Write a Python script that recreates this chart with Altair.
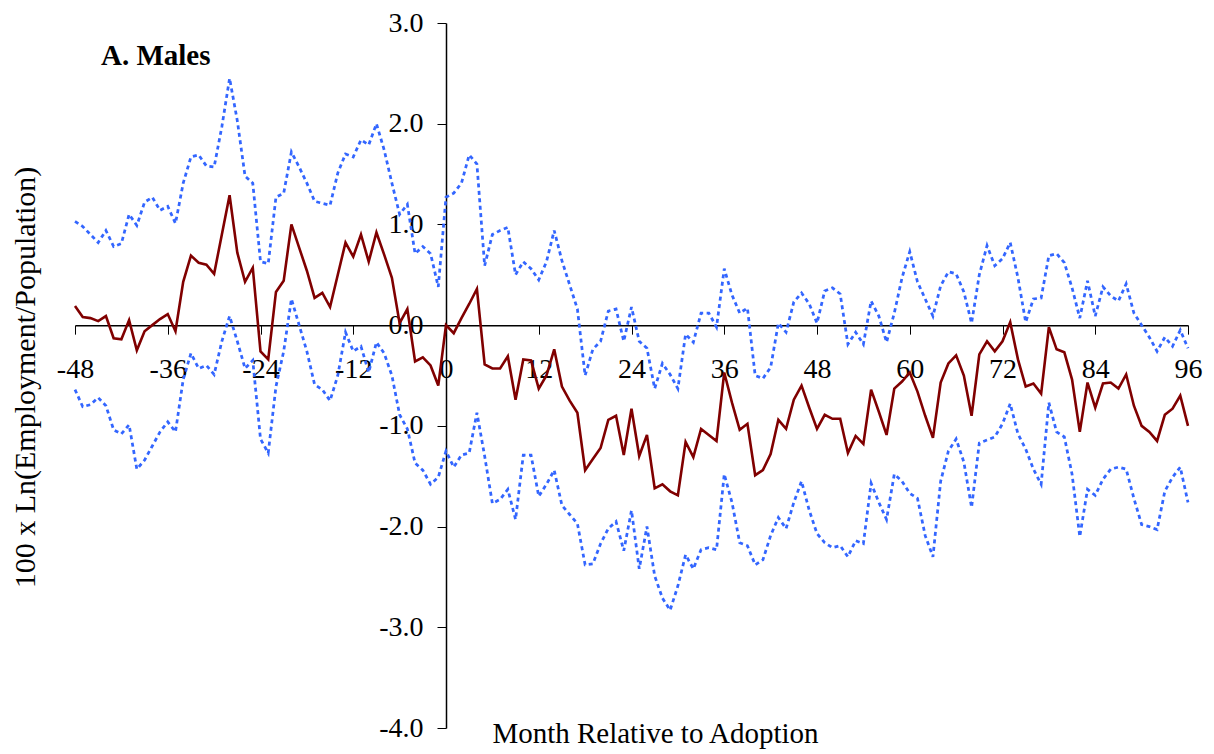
import altair as alt
import pandas as pd

months = list(range(-48, 97))

main_vals = [
    0.19, 0.08, 0.07, 0.04, 0.09, -0.13, -0.14, 0.05, -0.25, -0.06, 0.00, 0.06,
    0.11, -0.06, 0.43, 0.69, 0.62, 0.60, 0.51, 0.90, 1.29, 0.72, 0.43, 0.57,
    -0.26, -0.34, 0.33, 0.44, 1.00, 0.77, 0.54, 0.27, 0.32, 0.18, 0.50, 0.82,
    0.68, 0.90, 0.63, 0.92, 0.70, 0.47, 0.02, 0.16, -0.36, -0.32, -0.40, -0.60,
    0.00, -0.08, 0.07, 0.21, 0.36, -0.39, -0.43, -0.43, -0.31, -0.74, -0.34, -0.35,
    -0.63, -0.50, -0.24, -0.61, -0.75, -0.87, -1.44, -1.33, -1.22, -0.94, -0.90, -1.29,
    -0.83, -1.30, -1.09, -1.62, -1.58, -1.65, -1.69, -1.16, -1.31, -1.03, -1.09, -1.15,
    -0.47, -0.77, -1.04, -0.98, -1.49, -1.44, -1.28, -0.94, -1.03, -0.74, -0.60, -0.82,
    -1.03, -0.89, -0.93, -0.93, -1.27, -1.10, -1.18, -0.64, -0.86, -1.09, -0.63, -0.56,
    -0.47, -0.66, -0.90, -1.12, -0.57, -0.38, -0.30, -0.50, -0.90, -0.29, -0.16, -0.26,
    -0.16, 0.03, -0.34, -0.61, -0.58, -0.68, -0.02, -0.24, -0.27, -0.54, -1.06, -0.57,
    -0.82, -0.58, -0.57, -0.63, -0.49, -0.80, -1.00, -1.06, -1.15, -0.89, -0.83, -0.70,
    -1.00,
]

upper_vals = [
    1.03, 0.98, 0.90, 0.82, 0.94, 0.78, 0.81, 1.10, 0.99, 1.22, 1.27, 1.14,
    1.18, 1.01, 1.41, 1.67, 1.69, 1.58, 1.57, 1.97, 2.45, 2.03, 1.48, 1.41,
    0.63, 0.61, 1.27, 1.31, 1.72, 1.57, 1.41, 1.23, 1.21, 1.19, 1.51, 1.70,
    1.67, 1.84, 1.79, 2.00, 1.74, 1.41, 1.10, 1.20, 0.71, 0.78, 0.71, 0.38,
    1.27, 1.31, 1.41, 1.69, 1.60, 0.59, 0.90, 0.94, 0.97, 0.50, 0.63, 0.56,
    0.45, 0.63, 0.94, 0.64, 0.40, 0.16, -0.50, -0.24, -0.16, 0.14, 0.16, -0.16,
    0.18, -0.16, -0.23, -0.63, -0.38, -0.49, -0.63, -0.09, -0.17, 0.12, 0.12, -0.02,
    0.56, 0.30, 0.12, 0.17, -0.50, -0.53, -0.42, 0.02, -0.07, 0.23, 0.32, 0.21,
    0.02, 0.34, 0.37, 0.31, -0.19, -0.07, -0.19, 0.24, 0.09, -0.17, 0.12, 0.47,
    0.73, 0.43, 0.26, 0.09, 0.39, 0.53, 0.51, 0.33, 0.02, 0.50, 0.79, 0.59,
    0.66, 0.82, 0.47, 0.03, 0.26, 0.27, 0.69, 0.71, 0.62, 0.37, 0.07, 0.44,
    0.09, 0.38, 0.29, 0.24, 0.41, 0.12, 0.00, -0.12, -0.26, -0.12, -0.21, -0.05,
    -0.23,
]

lower_vals = [
    -0.64, -0.81, -0.79, -0.72, -0.80, -1.04, -1.08, -0.99, -1.43, -1.34, -1.20, -1.06,
    -0.96, -1.06, -0.54, -0.28, -0.43, -0.40, -0.49, -0.16, 0.09, -0.16, -0.43, -0.35,
    -1.13, -1.27, -0.61, -0.26, 0.26, 0.00, -0.26, -0.59, -0.64, -0.75, -0.50, -0.07,
    -0.26, -0.21, -0.47, -0.17, -0.28, -0.50, -0.89, -1.03, -1.37, -1.44, -1.58, -1.51,
    -1.25, -1.41, -1.29, -1.27, -0.87, -1.30, -1.77, -1.73, -1.63, -1.93, -1.29, -1.29,
    -1.70, -1.58, -1.44, -1.79, -1.88, -1.97, -2.38, -2.37, -2.17, -2.02, -1.95, -2.24,
    -1.84, -2.42, -2.00, -2.49, -2.71, -2.83, -2.59, -2.28, -2.42, -2.23, -2.21, -2.23,
    -1.48, -1.76, -2.16, -2.19, -2.38, -2.33, -2.09, -1.91, -2.02, -1.76, -1.55, -1.84,
    -2.07, -2.16, -2.21, -2.19, -2.30, -2.14, -2.17, -1.57, -1.76, -1.93, -1.48, -1.55,
    -1.67, -1.72, -2.09, -2.30, -1.55, -1.25, -1.13, -1.36, -1.81, -1.17, -1.14, -1.11,
    -0.98, -0.78, -1.08, -1.23, -1.43, -1.58, -0.77, -1.06, -1.11, -1.48, -2.10, -1.63,
    -1.69, -1.53, -1.43, -1.41, -1.43, -1.72, -1.98, -2.00, -2.03, -1.65, -1.51, -1.41,
    -1.76,
]

x_ticks = [-48, -36, -24, -12, 0, 12, 24, 36, 48, 60, 72, 84, 96]
y_ticks = [-4, -3, -2, -1, 0, 1, 2, 3]

title_text = "A. Males"
x_title = "Month Relative to Adoption"
y_title = "100 x Ln(Employment/Population)"

df = pd.concat([
    pd.DataFrame({"month": months, "value": main_vals, "series": "main"}),
    pd.DataFrame({"month": months, "value": upper_vals, "series": "upper"}),
    pd.DataFrame({"month": months, "value": lower_vals, "series": "lower"}),
])

W, H = 1113, 705
FONT = "Liberation Serif"
Y0 = H * 3 / 7      # pixel row of value 0
X0 = W / 3          # pixel column of month 0

x_scale = alt.Scale(domain=[-48, 96], nice=False, zero=False)
y_scale = alt.Scale(domain=[-4, 3], nice=False, zero=False)

x_axis = alt.Axis(
    values=x_ticks, offset=-(H - Y0), orient="bottom",
    labelExpr="'' + datum.value", labelAlign="center", labelBaseline="top",
    labelPadding=21, labelFontSize=28, labelFont=FONT, labelColor="black",
    tickSize=9, tickColor="black", tickWidth=1,
    domainColor="black", domainWidth=1.5, grid=False,
    title=x_title, titleFont=FONT, titleFontSize=29, titleFontWeight="normal",
    titleColor="black", titleX=580, titleY=417, titleAlign="center",
    titleBaseline="alphabetic", labelOverlap=False,
)
y_axis = alt.Axis(
    values=y_ticks, offset=-X0, orient="left",
    labelExpr="datum.value + '.0'", labelAlign="right", labelBaseline="middle",
    labelPadding=14, labelFontSize=28, labelFont=FONT, labelColor="black",
    tickSize=9, tickColor="black", tickWidth=1,
    domainColor="black", domainWidth=1.5, grid=False,
    title=y_title, titleFont=FONT, titleFontSize=30, titleFontWeight="normal",
    titleColor="black", titleX=-412, titleY=354, titleAngle=270,
    titleAlign="center", titleBaseline="alphabetic", labelOverlap=False,
)

base = alt.Chart(df)

band = base.transform_filter(alt.datum.series != "main").mark_line(
    color="#3366FF", strokeWidth=2.75, strokeDash=[4, 3.5]
).encode(
    x=alt.X("month:Q", scale=x_scale, axis=x_axis),
    y=alt.Y("value:Q", scale=y_scale, axis=y_axis),
    detail="series:N",
)

main = base.transform_filter(alt.datum.series == "main").mark_line(
    color="#800000", strokeWidth=2.6
).encode(
    x=alt.X("month:Q", scale=x_scale),
    y=alt.Y("value:Q", scale=y_scale),
)

title = alt.Chart(pd.DataFrame({"t": [title_text]})).mark_text(
    align="left", baseline="alphabetic", font=FONT, fontSize=29,
    fontWeight="bold", color="black"
).encode(
    x=alt.value(26), y=alt.value(42), text="t:N"
)

chart = alt.layer(band, main, title).properties(
    width=W, height=H,
    background="white",
    autosize=alt.AutoSizeParams(type="none"),
    padding={"left": 75, "top": 23, "right": 26, "bottom": 26},
).configure_view(strokeWidth=0, stroke=None)

chart.save("out.html", embed_options={"renderer": "svg", "actions": False})
